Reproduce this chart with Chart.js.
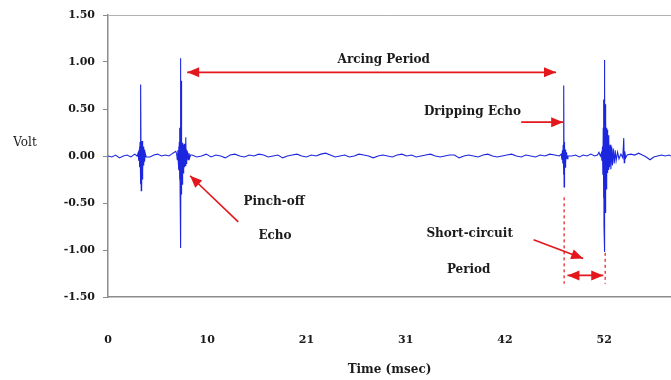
<!DOCTYPE html>
<html>
<head>
<meta charset="utf-8">
<script src="https://cdn.jsdelivr.net/npm/chart.js@4/dist/chart.umd.min.js"></script>
<style>
  html, body { margin: 0; padding: 0; background: #ffffff; }
  #wrap { width: 671px; height: 380px; }
</style>
</head>
<body>
<div id="wrap"><canvas id="c" width="671" height="380"></canvas></div>
<script>
// ---- Data ----
// Time axis tick positions (msec) and their printed labels
const xTickValues = [0, 10.4, 20.8, 31.2, 41.6, 52];
const xTickLabels = ['0', '10', '21', '31', '42', '52'];
const yTickValues = [-1.5, -1.0, -0.5, 0, 0.5, 1.0, 1.5];

// Sampled signal: time (msec) and voltage (V)
const timeMs = [
  0, 0.4, 0.8, 1.2, 1.6, 2.0, 2.4, 2.8, 3.05,
  3.15, 3.22, 3.27, 3.3, 3.33, 3.36, 3.39, 3.42, 3.45, 3.48, 3.51, 3.54, 3.57, 3.60, 3.63, 3.66, 3.70, 3.74, 3.78, 3.83, 3.9, 4.0,
  4.4, 4.8, 5.2, 5.6, 6.0, 6.4, 6.8, 7.1, 7.2,
  7.26, 7.32, 7.37, 7.40, 7.44, 7.47, 7.50, 7.53, 7.56, 7.58, 7.60, 7.62, 7.64, 7.66, 7.68, 7.70, 7.72, 7.74, 7.76, 7.79, 7.82, 7.85, 7.88, 7.91, 7.95, 7.98, 8.02, 8.06, 8.10, 8.15, 8.19, 8.22, 8.27, 8.33, 8.40, 8.48, 8.56, 8.65,
  8.8, 9.3, 9.8, 10.3, 10.8, 11.3, 11.8, 12.3, 12.8, 13.3,
  13.8, 14.3, 14.8, 15.3, 15.8, 16.3, 16.8, 17.3, 17.8, 18.3,
  18.8, 19.3, 19.8, 20.3, 20.8, 21.3, 21.8, 22.3, 22.8, 23.3,
  23.8, 24.3, 24.8, 25.3, 25.8, 26.3, 26.8, 27.3, 27.8, 28.3,
  28.8, 29.3, 29.8, 30.3, 30.8, 31.3, 31.8, 32.3, 32.8, 33.3,
  33.8, 34.3, 34.8, 35.3, 35.8, 36.3, 36.8, 37.3, 37.8, 38.3,
  38.8, 39.3, 39.8, 40.3, 40.8, 41.3, 41.8, 42.3, 42.8, 43.3,
  43.8, 44.3, 44.8, 45.3, 45.8, 46.3, 46.8, 47.3,
  47.50, 47.57, 47.62, 47.66, 47.70, 47.73, 47.76, 47.78, 47.80, 47.82, 47.84, 47.87, 47.90, 47.94, 47.98, 48.05, 48.12, 48.2,
  48.6, 49.0, 49.4, 49.8, 50.2, 50.6, 51.0, 51.3, 51.45, 51.6,
  51.70, 51.76, 51.82, 51.86, 51.90, 51.93, 51.96, 51.98, 52.00, 52.02, 52.04, 52.06, 52.08, 52.10, 52.12, 52.15, 52.18, 52.21, 52.24, 52.28, 52.32, 52.36, 52.40, 52.45, 52.50, 52.55, 52.62, 52.70, 52.78, 52.86, 52.95, 53.05, 53.15, 53.25, 53.40, 53.55, 53.75,
  53.95, 54.05, 54.10, 54.15, 54.25, 54.4,
  54.8, 55.2, 55.6, 56.0, 56.4, 56.8, 57.2, 57.6, 58.0, 58.4, 58.8, 59.0
];
const volts = [
  0.00, -0.01, 0.01, -0.02, 0.00, 0.01, -0.01, 0.02, 0.00,
  0.03, -0.05, 0.07, 0.10, -0.12, 0.15, -0.30, 0.17, 0.76, -0.37, 0.14, -0.36, 0.16, -0.25, 0.12, -0.16, 0.10, -0.10, 0.07, -0.06, 0.03, -0.01,
  -0.01, 0.01, 0.02, 0.00, 0.01, 0.00, 0.03, 0.05, 0.02,
  -0.04, 0.06, -0.07, 0.10, -0.15, 0.15, -0.25, 0.30, -0.41, 0.81, -0.40, 1.04, -0.98, 0.80, -0.41, 0.78, -0.40, 0.15, -0.30, 0.14, -0.22, 0.12, -0.18, 0.12, -0.15, 0.13, -0.12, 0.10, -0.10, 0.20, -0.08, 0.07, -0.06, 0.05, -0.04, 0.03, -0.02, 0.01,
  0.01, -0.01, 0.00, 0.02, -0.01, 0.01, 0.00, -0.02, 0.01, 0.02,
  0.00, -0.01, 0.01, 0.00, 0.02, 0.01, -0.01, 0.00, 0.01, -0.02,
  0.00, 0.01, 0.02, 0.00, -0.01, 0.01, 0.00, 0.02, 0.03, 0.01,
  -0.01, 0.00, 0.01, -0.01, 0.00, 0.02, 0.01, 0.00, -0.02, 0.00,
  0.01, 0.00, -0.01, 0.01, 0.02, 0.00, 0.01, -0.01, 0.00, 0.01,
  0.02, 0.00, -0.01, 0.00, 0.01, 0.01, -0.02, 0.00, 0.01, 0.00,
  -0.01, 0.01, 0.02, 0.00, -0.01, 0.00, 0.01, 0.02, 0.00, -0.01,
  0.01, 0.00, -0.01, 0.01, 0.00, 0.02, 0.01, 0.00,
  0.02, -0.04, 0.06, -0.08, 0.12, -0.20, 0.19, 0.75, -0.33, 0.15, -0.25, 0.10, -0.12, 0.07, -0.06, 0.04, -0.03, 0.00,
  0.00, 0.01, -0.01, 0.01, 0.00, 0.02, 0.00, 0.01, 0.04, 0.00,
  0.03, -0.05, 0.10, -0.20, 0.30, -0.45, 0.60, -0.75, 1.02, -1.02, 0.88, -0.70, 0.75, -0.60, 0.55, -0.45, 0.40, -0.35, 0.30, -0.25, 0.28, -0.18, 0.22, -0.15, 0.18, -0.12, 0.12, -0.14, 0.10, -0.10, 0.08, -0.08, 0.06, -0.05, 0.04, -0.03, 0.02,
  -0.02, 0.19, -0.07, 0.05, -0.02, 0.01,
  0.02, 0.01, 0.03, 0.01, -0.01, -0.04, -0.01, 0.00, 0.01, 0.00, 0.01, 0.00
];

// Annotations, placed in data units (time msec, volts)
const noteTexts = [
  { text: 'Arcing Period', t: 28.9, v: 1.02 },
  { text: 'Dripping Echo', t: 38.2, v: 0.47 },
  { text: 'Pinch-off', t: 17.4, v: -0.49 },
  { text: 'Echo', t: 17.5, v: -0.85 },
  { text: 'Short-circuit', t: 37.9, v: -0.83 },
  { text: 'Period', t: 37.8, v: -1.21 }
];
const noteArrows = [
  { from: [8.3, 0.89], to: [46.95, 0.89], both: true },
  { from: [43.3, 0.36], to: [47.7, 0.36], both: false },
  { from: [13.65, -0.70], to: [8.6, -0.21], both: false },
  { from: [44.6, -0.89], to: [49.8, -1.09], both: false },
  { from: [48.15, -1.27], to: [51.9, -1.27], both: true }
];
const noteDashed = [
  { t: 47.8, v1: -0.44, v2: -1.36 },
  { t: 52.1, v1: -1.03, v2: -1.36 }
];

const points = timeMs.map((t, i) => ({ x: t, y: volts[i] }));

const SERIF = '"DejaVu Serif", "Liberation Serif", serif';
const RED = '#e3171c';
const AXIS = '#8c8c8c';

const annotationPlugin = {
  id: 'annots',
  afterDatasetsDraw(chart) {
    const { ctx } = chart;
    const xs = chart.scales.x, ys = chart.scales.y;
    const px = t => xs.getPixelForValue(t);
    const py = v => ys.getPixelForValue(v);
    ctx.save();
    ctx.strokeStyle = RED;
    ctx.lineWidth = 1.2;
    ctx.setLineDash([3, 3]);
    noteDashed.forEach(d => {
      ctx.beginPath();
      ctx.moveTo(px(d.t), py(d.v1));
      ctx.lineTo(px(d.t), py(d.v2));
      ctx.stroke();
    });
    ctx.setLineDash([]);
    const head = (x1, y1, x2, y2) => {
      const a = Math.atan2(y2 - y1, x2 - x1);
      const L = 12, W = 5;
      ctx.beginPath();
      ctx.moveTo(x2, y2);
      ctx.lineTo(x2 - L * Math.cos(a) + W * Math.sin(a), y2 - L * Math.sin(a) - W * Math.cos(a));
      ctx.lineTo(x2 - L * Math.cos(a) - W * Math.sin(a), y2 - L * Math.sin(a) + W * Math.cos(a));
      ctx.closePath();
      ctx.fill();
    };
    ctx.fillStyle = RED;
    ctx.lineWidth = 1.6;
    noteArrows.forEach(a => {
      const x1 = px(a.from[0]), y1 = py(a.from[1]);
      const x2 = px(a.to[0]), y2 = py(a.to[1]);
      ctx.beginPath();
      ctx.moveTo(x1, y1);
      ctx.lineTo(x2, y2);
      ctx.stroke();
      head(x1, y1, x2, y2);
      if (a.both) head(x2, y2, x1, y1);
    });
    ctx.fillStyle = '#1b1b1b';
    ctx.font = 'bold 12px ' + SERIF;
    ctx.textAlign = 'center';
    ctx.textBaseline = 'middle';
    noteTexts.forEach(n => ctx.fillText(n.text, px(n.t), py(n.v)));
    ctx.font = '12px ' + SERIF;
    ctx.fillText('Volt', ys.left + 25, py(0.14));
    ctx.restore();
  }
};

new Chart(document.getElementById('c'), {
  type: 'line',
  data: {
    datasets: [{
      data: points,
      borderColor: 'rgb(28,38,222)',
      borderWidth: 1.1,
      pointRadius: 0,
      tension: 0,
      fill: false
    }]
  },
  options: {
    responsive: false,
    animation: false,
    devicePixelRatio: 1,
    layout: { padding: { top: 15, right: 0, left: 0, bottom: 0 } },
    plugins: { legend: { display: false }, tooltip: { enabled: false } },
    scales: {
      x: {
        type: 'linear',
        min: 0,
        max: 59,
        afterBuildTicks: s => { s.ticks = xTickValues.map(v => ({ value: v })); },
        afterFit: s => { s.height = 83; },
        grid: { display: true, color: 'transparent', drawTicks: false },
        border: { display: true, color: AXIS, width: 1.5 },
        ticks: {
          padding: 37,
          color: '#1b1b1b',
          font: { family: SERIF, weight: 'bold', size: 11 },
          maxRotation: 0,
          callback: (value, index) => xTickLabels[index]
        },
        title: {
          display: true,
          text: 'Time (msec)',
          color: '#1b1b1b',
          font: { family: SERIF, weight: 'bold', size: 12 },
          padding: { top: 0, bottom: 3 }
        }
      },
      y: {
        min: -1.5,
        max: 1.5,
        afterBuildTicks: s => { s.ticks = yTickValues.map(v => ({ value: v })); },
        afterFit: s => { s.width = 108; },
        grid: {
          display: true,
          drawTicks: true,
          tickLength: 5,
          tickColor: AXIS,
          color: c => (c.tick && c.tick.value === 1.5 ? '#b0b0b0' : 'transparent')
        },
        border: { display: true, color: AXIS, width: 1.5 },
        ticks: {
          padding: 8,
          color: '#1b1b1b',
          font: { family: SERIF, weight: 'bold', size: 11 },
          callback: v => Number(v).toFixed(2)
        }
      }
    }
  },
  plugins: [annotationPlugin]
});
</script>
</body>
</html>
